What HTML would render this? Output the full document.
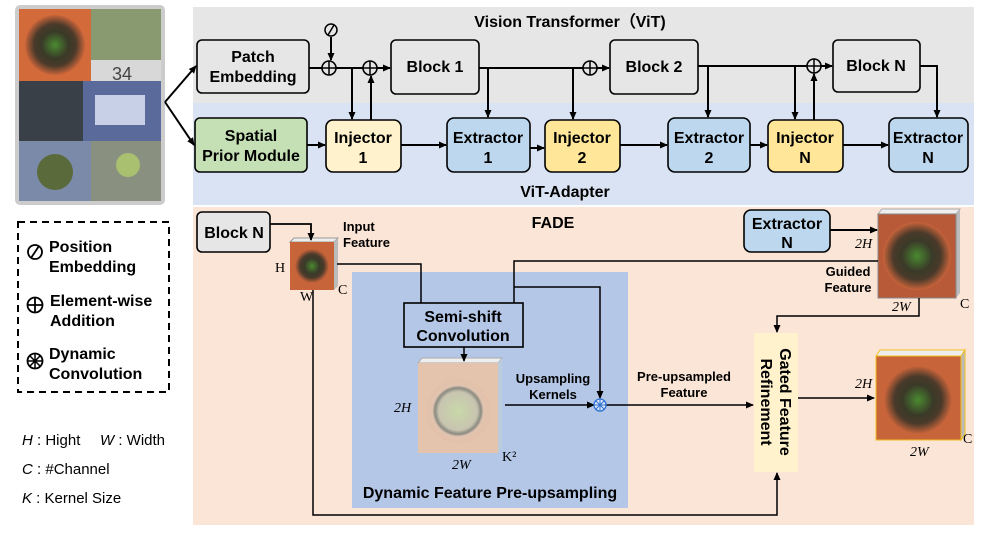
<!DOCTYPE html>
<html><head><meta charset="utf-8"><style>
body{margin:0;background:#fff}
svg text{font-family:"Liberation Sans",sans-serif}
.b{font-weight:bold;font-size:16px;text-anchor:middle}
.s{font-weight:bold;font-size:13px;text-anchor:middle}
.i{font-family:"Liberation Serif",serif;font-style:italic;font-size:14px}
.r{font-family:"Liberation Serif",serif;font-size:14px}
</style></head><body>
<svg width="997" height="532" viewBox="0 0 997 532" xmlns="http://www.w3.org/2000/svg">
<defs>
<marker id="a" markerWidth="8" markerHeight="8" refX="7" refY="4" orient="auto" markerUnits="userSpaceOnUse"><path d="M0,0.5 L8,4 L0,7.5z" fill="#000"/></marker>
<radialGradient id="pot" cx="50%" cy="50%" r="50%"><stop offset="0" stop-color="#4a8a30"/><stop offset="0.45" stop-color="#3a3a28"/><stop offset="0.7" stop-color="#4a3a2a"/><stop offset="1" stop-color="#c8643a"/></radialGradient>
<radialGradient id="pot2" cx="50%" cy="50%" r="50%"><stop offset="0" stop-color="#c8d8a8"/><stop offset="0.6" stop-color="#c8c4b0"/><stop offset="0.72" stop-color="#8a8a80"/><stop offset="0.8" stop-color="#e0c4b0"/><stop offset="1" stop-color="#e4c0a8"/></radialGradient>
</defs>
<!-- backgrounds -->
<rect x="193" y="7" width="781" height="97" fill="#e6e6e6"/>
<rect x="193" y="103" width="781" height="102" fill="#dae3f3"/>
<rect x="193" y="207" width="781" height="318" fill="#fbe5d6"/>
<rect x="352" y="272" width="276" height="236" fill="#b4c7e7"/>
<!-- image grid -->
<rect x="15" y="5" width="150" height="200" rx="5" fill="#ccc"/>
<rect x="19" y="9" width="72" height="72" fill="#d26a3a"/><circle cx="55" cy="45" r="30" fill="url(#pot)"/>
<rect x="91" y="9" width="70" height="72" fill="#8a9a70"/><rect x="91" y="60" width="70" height="21" fill="#d8d8d8"/><text x="112" y="80" font-size="18" fill="#444">34</text>
<rect x="19" y="81" width="64" height="60" fill="#3a4048"/><rect x="83" y="81" width="78" height="60" fill="#5a6a9a"/><rect x="95" y="95" width="50" height="30" fill="#c8d0e8"/>
<rect x="19" y="141" width="72" height="60" fill="#7a8aa8"/><circle cx="55" cy="172" r="18" fill="#5a6a3a"/><rect x="91" y="141" width="70" height="60" fill="#8a9080"/><circle cx="128" cy="165" r="12" fill="#a8c070"/>
<!-- legend -->
<rect x="18" y="222" width="151" height="170" fill="none" stroke="#000" stroke-width="2" stroke-dasharray="7,5"/>
<circle cx="35" cy="252" r="7" fill="none" stroke="#000" stroke-width="1.8"/><line x1="31" y1="258" x2="39" y2="246" stroke="#000" stroke-width="1.8"/>
<circle cx="35" cy="305" r="7.5" fill="none" stroke="#000" stroke-width="1.8"/><path d="M27.5,305h15M35,297.5v15" stroke="#000" stroke-width="1.8"/>
<circle cx="35" cy="361" r="7.5" fill="none" stroke="#000" stroke-width="1.8"/><path d="M27.5,361h15M35,353.5v15M30,356l10,10M40,356l-10,10" stroke="#000" stroke-width="1.5"/>
<g font-weight="bold" font-size="16"><text x="49" y="252">Position</text><text x="49" y="272">Embedding</text><text x="50" y="306">Element-wise</text><text x="50" y="326">Addition</text><text x="49" y="359">Dynamic</text><text x="49" y="379">Convolution</text></g>
<g font-size="15"><text x="22" y="445"><tspan font-style="italic">H</tspan> : Hight</text><text x="100" y="445"><tspan font-style="italic">W</tspan> : Width</text><text x="22" y="474"><tspan font-style="italic">C</tspan> : #Channel</text><text x="22" y="503"><tspan font-style="italic">K</tspan> : Kernel Size</text></g>
<!-- titles -->
<text x="570" y="27" class="b">Vision Transformer（ViT)</text>
<text x="565" y="197" class="b">ViT-Adapter</text>
<text x="553" y="228" class="b">FADE</text>
<!-- boxes -->
<g stroke="#000" stroke-width="1.6">
<rect x="197" y="40" width="112" height="53" rx="5" fill="#e6e6e6"/>
<rect x="391" y="40" width="88" height="54" rx="5" fill="#e6e6e6"/>
<rect x="610" y="40" width="88" height="54" rx="5" fill="#e6e6e6"/>
<rect x="833" y="40" width="87" height="52" rx="5" fill="#e6e6e6"/>
<rect x="195" y="118" width="112" height="54" rx="5" fill="#c5e0b4"/>
<rect x="326" y="120" width="75" height="52" rx="7" fill="#fff2cc"/>
<rect x="447" y="118" width="83" height="54" rx="7" fill="#bdd7ee"/>
<rect x="545" y="120" width="75" height="52" rx="7" fill="#ffe699"/>
<rect x="668" y="118" width="82" height="54" rx="7" fill="#bdd7ee"/>
<rect x="768" y="120" width="75" height="52" rx="7" fill="#ffe699"/>
<rect x="889" y="118" width="79" height="54" rx="7" fill="#bdd7ee"/>
<rect x="197" y="212" width="73" height="40" rx="5" fill="#e6e6e6"/>
<rect x="744" y="210" width="86" height="42" rx="7" fill="#bdd7ee"/>
<rect x="404" y="303" width="119" height="44" fill="#b4c7e7"/>
</g>
<rect x="754" y="333" width="44" height="139" fill="#fff2cc"/>
<g class="b">
<text x="253" y="62">Patch</text><text x="253" y="82">Embedding</text>
<text x="435" y="72">Block 1</text><text x="654" y="72">Block 2</text><text x="876" y="71">Block N</text>
<text x="251" y="141">Spatial</text><text x="251" y="161">Prior Module</text>
<text x="363" y="143">Injector</text><text x="363" y="163">1</text>
<text x="488" y="143">Extractor</text><text x="488" y="163">1</text>
<text x="582" y="143">Injector</text><text x="582" y="163">2</text>
<text x="709" y="143">Extractor</text><text x="709" y="163">2</text>
<text x="805" y="143">Injector</text><text x="805" y="163">N</text>
<text x="928" y="143">Extractor</text><text x="928" y="163">N</text>
<text x="234" y="238">Block N</text>
<text x="787" y="229">Extractor</text><text x="787" y="248">N</text>
<text x="463" y="322">Semi-shift</text><text x="463" y="341">Convolution</text>
<text x="490" y="498">Dynamic Feature Pre-upsampling</text>
</g>
<g transform="translate(776,402) rotate(90)" class="b"><text x="0" y="-4">Gated Feature</text><text x="0" y="15">Refinement</text></g>
<g class="s">
<text x="343" y="231" text-anchor="start">Input</text><text x="343" y="247" text-anchor="start">Feature</text>
<text x="553" y="383">Upsampling</text><text x="553" y="399">Kernels</text>
<text x="684" y="381">Pre-upsampled</text><text x="684" y="397">Feature</text>
<text x="848" y="276">Guided</text><text x="848" y="292">Feature</text>
</g>
<!-- cubes -->
<polygon points="290,242 294,238 338,238 334,242" fill="#eee" stroke="#999"/><polygon points="334,242 338,238 338,286 334,290" fill="#bbb"/>
<rect x="290" y="242" width="44" height="48" fill="#c8643a"/><circle cx="312" cy="266" r="17" fill="url(#pot)"/>
<text x="275" y="272" class="r">H</text><text x="300" y="301" class="r">W</text><text x="338" y="294" class="r">C</text>
<polygon points="418,363 422,358 502,358 498,363" fill="#eee" stroke="#aaa"/><polygon points="498,363 502,358 502,448 498,453" fill="#bcd"/>
<rect x="418" y="363" width="80" height="90" fill="#e4c4ac"/><circle cx="458" cy="411" r="32" fill="url(#pot2)"/>
<text x="394" y="412" class="i">2H</text><text x="452" y="469" class="i">2W</text><text x="502" y="461" class="r">K²</text>
<polygon points="878,214 882,209 960,209 956,214" fill="#eee" stroke="#aaa"/><polygon points="956,214 960,209 960,293 956,298" fill="#bbb"/>
<rect x="878" y="214" width="78" height="84" fill="#b85a38" stroke="#888"/><circle cx="917" cy="256" r="34" fill="url(#pot)"/>
<text x="855" y="248" class="i">2H</text><text x="892" y="311" class="i">2W</text><text x="960" y="308" class="r">C</text>
<polygon points="876,356 880,350 965,350 961,356" fill="#eee" stroke="#f0c020"/><polygon points="961,356 965,350 965,434 961,440" fill="#bbb" stroke="#f0c020"/>
<rect x="876" y="356" width="85" height="84" fill="#c8643a" stroke="#f0c020"/><circle cx="918" cy="400" r="34" fill="url(#pot)"/>
<text x="855" y="388" class="i">2H</text><text x="910" y="456" class="i">2W</text><text x="963" y="443" class="r">C</text>
<!-- connectors -->
<g fill="none" stroke="#000" stroke-width="2">
<path d="M165,102 L196,66" marker-end="url(#a)"/><path d="M165,102 L194,145" marker-end="url(#a)"/>
<path d="M309,68 H390" marker-end="url(#a)"/>
<path d="M331,37 V60" marker-end="url(#a)"/>
<path d="M352,68 V119" marker-end="url(#a)"/><path d="M371,120 V76" marker-end="url(#a)"/>
<path d="M479,68 H609" marker-end="url(#a)"/>
<path d="M488,68 V117" marker-end="url(#a)"/><path d="M573,68 V119" marker-end="url(#a)"/>
<path d="M698,66 H832" marker-end="url(#a)"/>
<path d="M708,66 V117" marker-end="url(#a)"/><path d="M795,66 V119" marker-end="url(#a)"/>
<path d="M814,120 V74" marker-end="url(#a)"/>
<path d="M920,66 H937 V117" marker-end="url(#a)"/>
<path d="M307,145 H325" marker-end="url(#a)"/><path d="M401,145 H446" marker-end="url(#a)"/>
<path d="M530,148 H544" marker-end="url(#a)"/><path d="M620,145 H667" marker-end="url(#a)"/>
<path d="M750,145 H767" marker-end="url(#a)"/><path d="M843,145 H888" marker-end="url(#a)"/>
<path d="M270,224 H311 V240" marker-end="url(#a)" stroke-width="1.8"/>
<path d="M830,230 H877" marker-end="url(#a)"/>
</g>
<g fill="none" stroke="#000" stroke-width="1.5">
<path d="M337,264 H421 V303"/>
<path d="M514,303 V261 H878"/>
<path d="M514,287 H600 V398" marker-end="url(#a)"/>
<path d="M464,347 V361" marker-end="url(#a)"/>
<path d="M505,405 H594" marker-end="url(#a)"/>
<path d="M606,405 H753" marker-end="url(#a)"/>
<path d="M919,298 V316 H777 V332" marker-end="url(#a)"/>
<path d="M798,398 H874" marker-end="url(#a)"/>
<path d="M313,290 V515 H777 V473" marker-end="url(#a)"/>
</g>
<g fill="#e6e6e6" stroke="#000" stroke-width="1.6">
<circle cx="329" cy="68" r="7"/><circle cx="370" cy="68" r="7"/><circle cx="590" cy="68" r="7"/><circle cx="814" cy="66" r="7"/>
</g>
<path d="M322,68h14M329,61v14M363,68h14M370,61v14M583,68h14M590,61v14M807,66h14M814,59v14" stroke="#000" stroke-width="1.5"/>
<circle cx="331" cy="30" r="6" fill="#e6e6e6" stroke="#000" stroke-width="1.5"/><line x1="328" y1="35" x2="334" y2="25" stroke="#000" stroke-width="1.5"/>
<circle cx="600" cy="405" r="6" fill="#dae8fc" stroke="#2f6fd0" stroke-width="1.3"/><path d="M594,405h12M600,399v12M596,401l8,8M604,401l-8,8" stroke="#2f6fd0" stroke-width="1"/>
</svg>
</body></html>
